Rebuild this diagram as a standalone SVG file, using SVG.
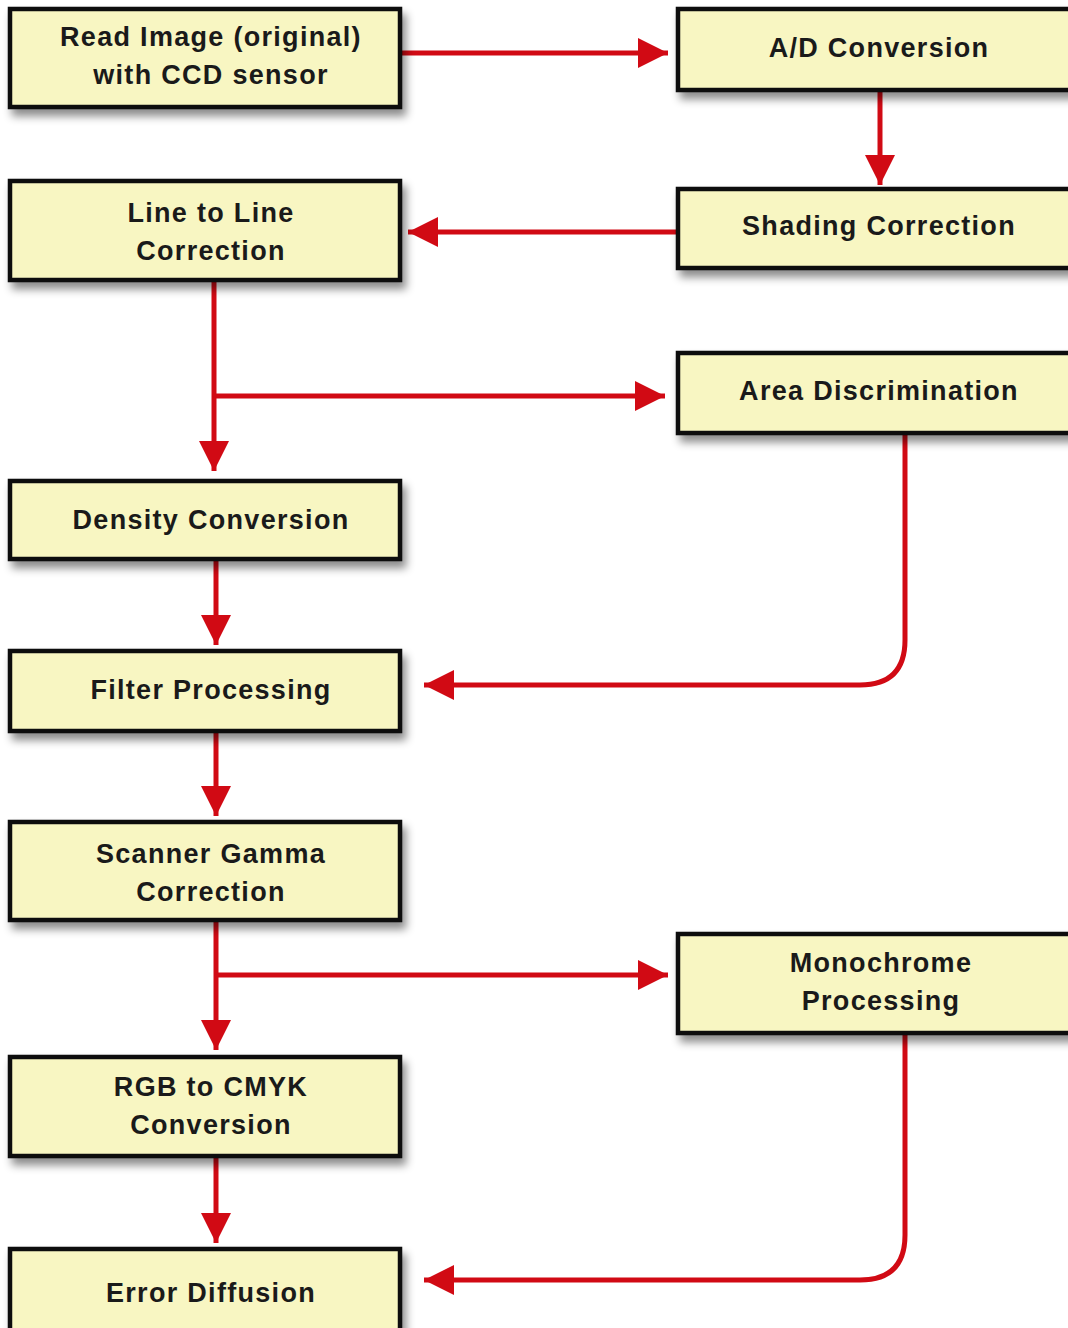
<svg xmlns="http://www.w3.org/2000/svg" width="1068" height="1328" viewBox="0 0 1068 1328">
<defs>
<filter id="sh" x="-10%" y="-20%" width="130%" height="160%">
<feDropShadow dx="4" dy="7" stdDeviation="4" flood-color="#000" flood-opacity="0.45"/>
</filter>
<marker id="ah" markerUnits="userSpaceOnUse" markerWidth="32" markerHeight="32" refX="30" refY="15" orient="auto" viewBox="0 0 32 30">
<path d="M0,0 L30,15 L0,30 z" fill="#d10a14"/>
</marker>
<style>
.box{fill:#f8f6c2;stroke:#111;stroke-width:4.5;filter:url(#sh)}
.t{font-family:"Liberation Sans",Arial,sans-serif;font-weight:bold;font-size:27px;fill:#1a1a1a;text-anchor:middle;letter-spacing:1.3px}
.c{fill:none;stroke:#d10a14;stroke-width:5;marker-end:url(#ah)}
</style>
</defs>
<rect width="1068" height="1328" fill="#fff"/>
<g id="connectors">
<path class="c" d="M400,53 H668"/>
<path class="c" d="M880,90 V185"/>
<path class="c" d="M678,232 H408"/>
<path class="c" d="M214,280 V471"/>
<path class="c" d="M214,396 H665"/>
<path class="c" d="M905,433 V640 Q905,685 860,685 H424"/>
<path class="c" d="M216,559 V645"/>
<path class="c" d="M216,731 V816"/>
<path class="c" d="M216,920 V1050"/>
<path class="c" d="M216,975 H668"/>
<path class="c" d="M905,1033 V1235 Q905,1280 860,1280 H424"/>
<path class="c" d="M216,1156 V1243"/>
</g>
<g id="n1"><rect class="box" x="10" y="9" width="390" height="98"/><text class="t" x="211" y="46">Read Image (original)</text><text class="t" x="211" y="84">with CCD sensor</text></g>
<g id="n2"><rect class="box" x="678" y="9" width="400" height="81"/><text class="t" x="879" y="57">A/D Conversion</text></g>
<g id="n3"><rect class="box" x="678" y="189" width="400" height="79"/><text class="t" x="879" y="235">Shading Correction</text></g>
<g id="n4"><rect class="box" x="10" y="181" width="390" height="99"/><text class="t" x="211" y="222">Line to Line</text><text class="t" x="211" y="260">Correction</text></g>
<g id="n5"><rect class="box" x="678" y="353" width="400" height="80"/><text class="t" x="879" y="400">Area Discrimination</text></g>
<g id="n6"><rect class="box" x="10" y="481" width="390" height="78"/><text class="t" x="211" y="529">Density Conversion</text></g>
<g id="n7"><rect class="box" x="10" y="651" width="390" height="80"/><text class="t" x="211" y="699">Filter Processing</text></g>
<g id="n8"><rect class="box" x="10" y="822" width="390" height="98"/><text class="t" x="211" y="863">Scanner Gamma</text><text class="t" x="211" y="901">Correction</text></g>
<g id="n9"><rect class="box" x="678" y="934" width="400" height="99"/><text class="t" x="881" y="972">Monochrome</text><text class="t" x="881" y="1010">Processing</text></g>
<g id="n10"><rect class="box" x="10" y="1057" width="390" height="99"/><text class="t" x="211" y="1096">RGB to CMYK</text><text class="t" x="211" y="1134">Conversion</text></g>
<g id="n11"><rect class="box" x="10" y="1249" width="390" height="100"/><text class="t" x="211" y="1302">Error Diffusion</text></g>
</svg>
